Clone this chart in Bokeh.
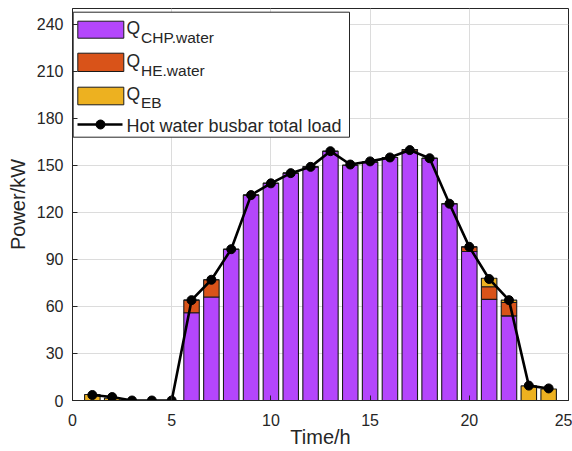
from bokeh.plotting import figure
from bokeh.models import Range1d, FixedTicker, Label
from bokeh.embed import file_html
from bokeh.resources import INLINE

# ---- data ----
hours = list(range(1, 25))
q_chp_water = [0, 0, 0, 0, 0, 56, 66, 96.5, 131, 138.5, 145, 149, 159, 150, 152, 155, 159, 154.5, 125.5, 95, 64.5, 54, 0, 0]
q_he_water  = [0, 0, 0, 0, 0, 8, 11, 0, 0, 0, 0, 0, 0, 0, 0, 0, 1, 0, 0, 3, 8, 8.5, 0, 0]
q_eb        = [3.8, 1.5, 0, 0, 0, 0, 0, 0, 0, 0, 0, 0, 0, 0, 0, 0, 0, 0, 0, 0, 5.5, 1.5, 9.3, 7.3]
total_load  = [3.5, 2.2, 0, 0, 0, 64, 77, 96.5, 131, 138.5, 145, 149, 159, 150.5, 152.5, 155, 159.7, 154.5, 125.5, 98, 77.5, 64, 9.5, 7.7]
x_ticks = [0, 5, 10, 15, 20, 25]
y_ticks = [0, 30, 60, 90, 120, 150, 180, 210, 240]
series_names = ["Q_CHP.water", "Q_HE.water", "Q_EB"]
line_name = "Hot water busbar total load"

C_CHP = "#B446FC"
C_HE = "#D95319"
C_EB = "#EDB120"
FONT = "Liberation Sans"
TXT = "#262626"

p = figure(output_backend="svg", toolbar_location=None,
           frame_width=496, frame_height=392,
           min_border_left=72, min_border_right=4, min_border_top=8, min_border_bottom=51,
           x_range=Range1d(0, 25), y_range=Range1d(0, 250))
p.background_fill_color = "white"
p.border_fill_color = "white"
p.outline_line_color = TXT
p.outline_line_width = 1

src = dict(h=hours, chp=q_chp_water, he=q_he_water, eb=q_eb)
p.vbar_stack(["chp", "he", "eb"], x="h", width=0.78, source=src,
             color=[C_CHP, C_HE, C_EB], line_color="#1a1a1a", line_width=1.1)
p.line(hours, total_load, line_color="black", line_width=2.6)
p.scatter(hours, total_load, size=9, color="black")

for ax in (p.xaxis, p.yaxis):
    ax.axis_line_color = TXT
    ax.major_tick_line_color = TXT
    ax.major_tick_in = 5
    ax.major_tick_out = 0
    ax.minor_tick_line_color = None
    ax.major_label_text_font = FONT
    ax.major_label_text_font_size = "16px"
    ax.major_label_text_color = TXT
    ax.axis_label_text_font = FONT
    ax.axis_label_text_font_size = "20px"
    ax.axis_label_text_color = TXT
    ax.axis_label_text_font_style = "normal"
p.xaxis.ticker = FixedTicker(ticks=x_ticks)
p.yaxis.ticker = FixedTicker(ticks=y_ticks)
p.xaxis.axis_label = "Time/h"
p.yaxis.axis_label = "Power/kW"
p.xaxis.major_label_standoff = 13
p.yaxis.major_label_standoff = 9
p.xaxis.axis_label_standoff = -3
p.yaxis.axis_label_standoff = 5

p.grid.grid_line_color = "#DCDCDC"
p.grid.grid_line_width = 1

# ---- hand-drawn legend (pixel layout converted to data units) ----
F_L, F_T, F_W, F_H = 72, 8, 496, 392
def dx(px):
    return (px - F_L) * 25.0 / F_W
def dy(py):
    return (F_T + F_H - py) * 250.0 / F_H

p.quad(left=dx(72.7), right=dx(349), top=dy(11.7), bottom=dy(136.7),
       fill_color="white", line_color=TXT, line_width=1)
sw_rows = [(20.7, 37.7, C_CHP), (52.7, 71, C_HE), (86.7, 104.3, C_EB)]
for (t, b, c) in sw_rows:
    p.quad(left=dx(77.3), right=dx(123.3), top=dy(t), bottom=dy(b),
           fill_color=c, line_color="#1a1a1a", line_width=1)
p.line([dx(77), dx(122)], [dy(124), dy(124)], line_color="black", line_width=2.6)
p.scatter([dx(100)], [dy(124)], size=9, color="black")

sub_texts = [s.split("_")[1] for s in series_names]
q_base = [27, 60.5, 93.5]
sub_base = [37, 70, 102]
for qb, sb, sub in zip(q_base, sub_base, sub_texts):
    p.add_layout(Label(x=dx(126), y=dy(qb), text="Q", text_font=FONT,
                       text_font_size="17.5px", text_color=TXT, text_baseline="alphabetic"))
    p.add_layout(Label(x=dx(140.5), y=dy(sb), text=sub, text_font=FONT,
                       text_font_size="15.5px", text_color=TXT, text_baseline="alphabetic"))
p.add_layout(Label(x=dx(126), y=dy(125.5), text=line_name, text_font=FONT,
                   text_font_size="18px", text_color=TXT, text_baseline="alphabetic"))

open("out.html", "w").write(file_html(p, INLINE))
